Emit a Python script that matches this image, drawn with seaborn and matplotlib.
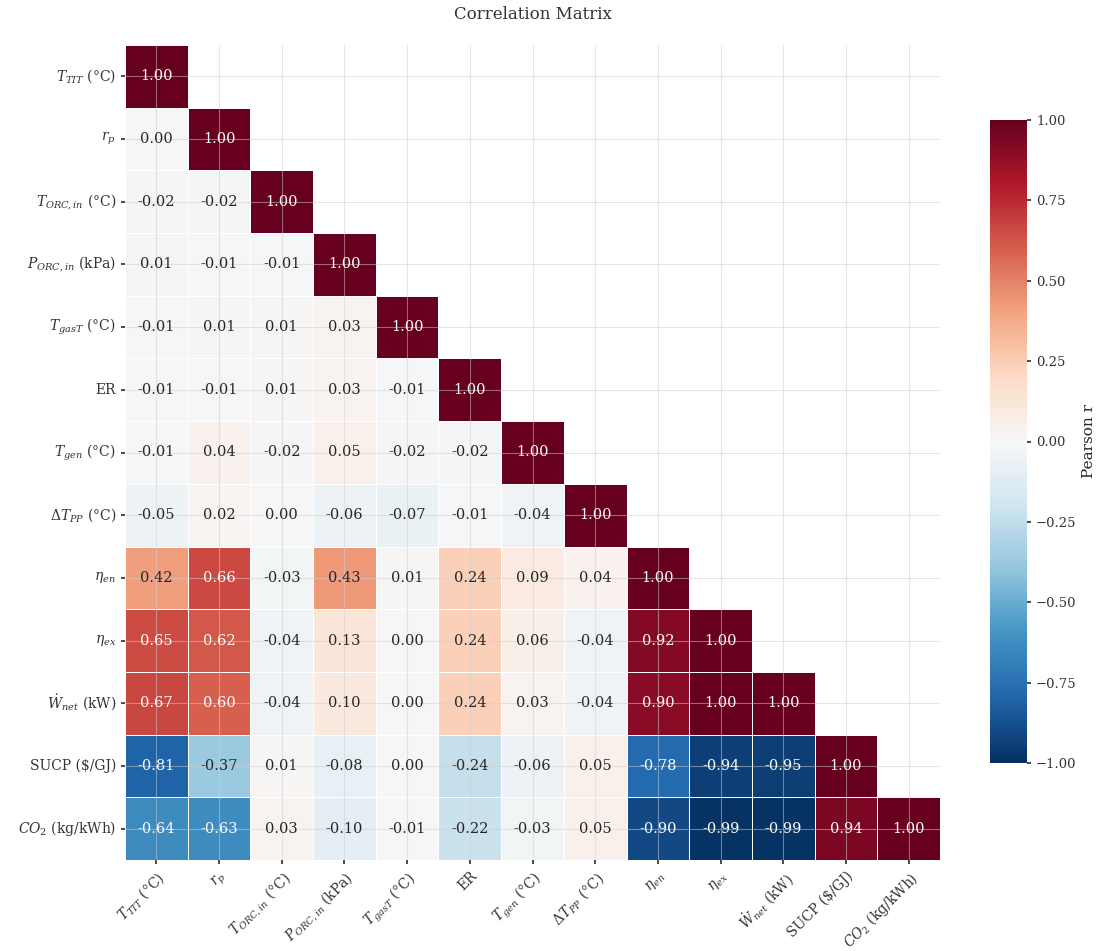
import numpy as np
import pandas as pd
import matplotlib
matplotlib.use("Agg")
import matplotlib.pyplot as plt
import seaborn as sns

# Variable labels (mathtext)
labels = [
    r"$T_{TIT}$ (°C)",
    r"$r_p$",
    r"$T_{ORC,in}$ (°C)",
    r"$P_{ORC,in}$ (kPa)",
    r"$T_{gasT}$ (°C)",
    "ER",
    r"$T_{gen}$ (°C)",
    r"$\Delta T_{PP}$ (°C)",
    r"$\eta_{en}$",
    r"$\eta_{ex}$",
    r"$\dot{W}_{net}$ (kW)",
    "SUCP (\\$/GJ)",
    r"$CO_2$ (kg/kWh)",
]

# Lower-triangle Pearson coefficients, one list per row
row_tit = [1.00]
row_rp = [0.00, 1.00]
row_torc = [-0.02, -0.02, 1.00]
row_porc = [0.01, -0.01, -0.01, 1.00]
row_tgas = [-0.01, 0.01, 0.01, 0.03, 1.00]
row_er = [-0.01, -0.01, 0.01, 0.03, -0.01, 1.00]
row_tgen = [-0.01, 0.04, -0.02, 0.05, -0.02, -0.02, 1.00]
row_dtpp = [-0.05, 0.02, 0.00, -0.06, -0.07, -0.01, -0.04, 1.00]
row_eta_en = [0.42, 0.66, -0.03, 0.43, 0.01, 0.24, 0.09, 0.04, 1.00]
row_eta_ex = [0.65, 0.62, -0.04, 0.13, 0.00, 0.24, 0.06, -0.04, 0.92, 1.00]
row_wnet = [0.67, 0.60, -0.04, 0.10, 0.00, 0.24, 0.03, -0.04, 0.90, 1.00, 1.00]
row_sucp = [-0.81, -0.37, 0.01, -0.08, 0.00, -0.24, -0.06, 0.05, -0.78, -0.94, -0.95, 1.00]
row_co2 = [-0.64, -0.63, 0.03, -0.10, -0.01, -0.22, -0.03, 0.05, -0.90, -0.99, -0.99, 0.94, 1.00]

rows = [row_tit, row_rp, row_torc, row_porc, row_tgas, row_er, row_tgen,
        row_dtpp, row_eta_en, row_eta_ex, row_wnet, row_sucp, row_co2]

n = len(labels)
corr = np.zeros((n, n))
for i, r in enumerate(rows):
    for j, v in enumerate(r):
        corr[i, j] = v
        corr[j, i] = v
corr_df = pd.DataFrame(corr, index=labels, columns=labels)

# Hide the strict upper triangle
mask = np.triu(np.ones_like(corr, dtype=bool), k=1)

sns.set_theme(style="whitegrid")
plt.rcParams["font.family"] = ["DejaVu Serif"]
plt.rcParams["mathtext.fontset"] = "dejavuserif"
plt.rcParams["xtick.bottom"] = True
plt.rcParams["ytick.left"] = True
plt.rcParams["xtick.major.size"] = 3
plt.rcParams["ytick.major.size"] = 3
plt.rcParams["xtick.color"] = "#333333"
plt.rcParams["ytick.color"] = "#333333"

fig = plt.figure(figsize=(11.07, 9.51), dpi=100)
ax = fig.add_axes([125 / 1107, 1 - 860 / 951, 815 / 1107, 815 / 951])
cax = fig.add_axes([990 / 1107, 1 - 763 / 951, 37 / 1107, 643 / 951])

sns.heatmap(
    corr_df, mask=mask, cmap="RdBu_r", vmin=-1, vmax=1, center=0,
    annot=True, fmt=".2f", annot_kws={"size": 10.5},
    linewidths=0.5, linecolor="white", square=True,
    ax=ax, cbar_ax=cax, cbar_kws={"label": "Pearson r"},
)
# Faint grid drawn over the cells, beneath the annotations
ax.set_axisbelow(False)
ax.grid(True, color="#cfcfcf", linewidth=0.8, alpha=0.5)
ax.set_title("Correlation Matrix", fontsize=12, pad=19, color="#333333")
ax.set_xticklabels(ax.get_xticklabels(), rotation=45, ha="right",
                   rotation_mode="anchor", fontsize=10)
ax.set_yticklabels(ax.get_yticklabels(), rotation=0, fontsize=10)

cax.set_yticks([-1.0, -0.75, -0.5, -0.25, 0.0, 0.25, 0.5, 0.75, 1.0])
cax.tick_params(labelsize=9.5, length=3, right=True)
cax.yaxis.label.set_size(11)
for s in cax.spines.values():
    s.set_visible(False)

fig.savefig("out.png", dpi=100)
